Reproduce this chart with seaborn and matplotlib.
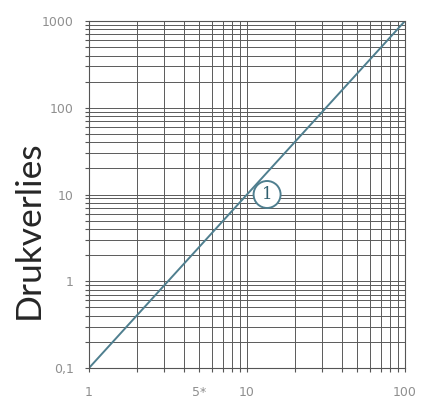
import numpy as np
import pandas as pd
import matplotlib
matplotlib.use("Agg")
import matplotlib.pyplot as plt
import seaborn as sns
from matplotlib.ticker import FixedLocator, NullFormatter

# data
flow = [1, 100]
pressure_drop = [0.1, 1000]
x_ticks = [1, 5, 10, 100]
x_tick_labels = ["1", "5*", "10", "100"]
y_ticks = [0.1, 1, 10, 100, 1000]
y_tick_labels = ["0,1", "1", "10", "100", "1000"]
curve_label = "1"
label_pos = (13.4, 10)

df = pd.DataFrame({"flow": flow, "pressure_drop": pressure_drop})

sns.set_style("white")
plt.rcParams["font.family"] = ["DejaVu Sans"]

fig = plt.figure(figsize=(4.21, 4.01), dpi=100)
ax = fig.add_axes([89 / 421, 1 - 368 / 401, (405 - 89) / 421, (368 - 21) / 401])

sns.lineplot(data=df, x="flow", y="pressure_drop", ax=ax, color="#4f7f8f", linewidth=1.4)

ax.set_xscale("log")
ax.set_yscale("log")
ax.set_xlim(1, 100)
ax.set_ylim(0.1, 1000)

minor_x = [m * 10 ** d for d in range(0, 2) for m in range(2, 10)]
minor_y = [m * 10.0 ** d for d in range(-1, 3) for m in range(2, 10)]
ax.xaxis.set_major_locator(FixedLocator(x_ticks))
ax.xaxis.set_minor_locator(FixedLocator(minor_x))
ax.yaxis.set_major_locator(FixedLocator(y_ticks))
ax.yaxis.set_minor_locator(FixedLocator(minor_y))
ax.set_xticklabels(x_tick_labels)
ax.set_yticklabels(y_tick_labels)
ax.xaxis.set_minor_formatter(NullFormatter())
ax.yaxis.set_minor_formatter(NullFormatter())

ax.grid(True, which="both", color="#5a5a5a", linewidth=0.7)
ax.tick_params(which="both", direction="out", length=3, width=0.8, color="#555555",
               bottom=True, left=True)
ax.tick_params(which="major", labelsize=9, labelcolor="#8f8f8f")
ax.tick_params(axis="x", which="major", pad=10)
ax.tick_params(axis="y", which="major", pad=8)
for spine in ax.spines.values():
    spine.set_color("#555555")
    spine.set_linewidth(0.8)

ax.set_xlabel("")
ax.set_ylabel("Drukverlies", fontsize=25.5, family=["Lato", "DejaVu Sans"])
ax.yaxis.set_label_coords((45 - 89) / 316, (368 - 230) / 347)

ax.text(label_pos[0], label_pos[1], curve_label, ha="center", va="center", fontsize=12,
        color="#2f5f6f", family=["DejaVu Serif"],
        bbox=dict(boxstyle="circle,pad=0.3", facecolor="white", edgecolor="#4f7f8f", linewidth=1.4))

fig.savefig("out.png", dpi=100)
